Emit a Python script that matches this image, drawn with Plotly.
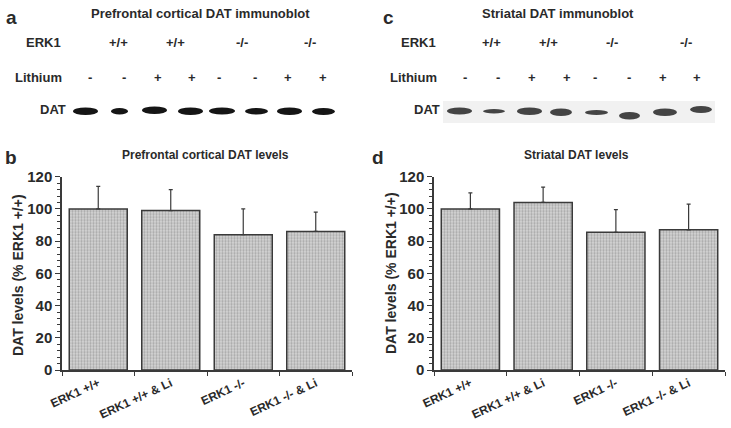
import plotly.graph_objects as go

# ---- data ----
categories = ["ERK1 +/+", "ERK1 +/+ & Li", "ERK1 -/-", "ERK1 -/- & Li"]
pfc_mean = [100, 99, 84, 86]
pfc_sem = [14, 13, 16, 12]
str_mean = [100, 104, 85.5, 87]
str_sem = [10, 9.5, 14, 16]
y_ticks = [0, 20, 40, 60, 80, 100, 120]

erk1_groups = ["+/+", "+/+", "-/-", "-/-"]
lithium_lanes = ["-", "-", "+", "+", "-", "-", "+", "+"]

W, H = 731, 428
FONT = "Liberation Sans, Arial, Helvetica, sans-serif"
DARK = "#2a2a2a"


def px(x):
    return x / W


def py(y):
    return 1 - y / H


fig = go.Figure()

bar_style = dict(
    marker=dict(
        color="#cfcfcf",
        line=dict(color="#3a3a3a", width=1.5),
        pattern=dict(shape=".", fgcolor="#7c7c7c", bgcolor="#d6d6d6", size=3, solidity=0.45),
    ),
    showlegend=False,
)
err_style = dict(type="data", symmetric=False, arrayminus=[0] * 4,
                 color="#3a3a3a", thickness=1.2, width=2)

fig.add_trace(go.Bar(x=categories, y=pfc_mean, error_y=dict(array=pfc_sem, **err_style),
                     xaxis="x", yaxis="y", **bar_style))
fig.add_trace(go.Bar(x=categories, y=str_mean, error_y=dict(array=str_sem, **err_style),
                     xaxis="x2", yaxis="y2", **bar_style))

ydom = [py(370), py(176.7)]
xax = dict(showline=True, linecolor="#3a3a3a", linewidth=1.5, ticks="outside",
           tickson="boundaries", ticklen=4, tickcolor="#3a3a3a", tickangle=-25,
           tickfont=dict(family=FONT, size=12, color=DARK, weight="bold"),
           showgrid=False, zeroline=False, fixedrange=True, automargin=False)
yax = dict(range=[0, 120], tickvals=y_ticks, showline=True, linecolor="#3a3a3a",
           linewidth=1.5, ticks="outside", ticklen=5, tickcolor="#3a3a3a",
           minor=dict(dtick=4, ticks="outside", ticklen=3, tickcolor="#3a3a3a"),
           tickfont=dict(family=FONT, size=15, color=DARK, weight="bold"),
           showgrid=False, zeroline=False, domain=ydom, automargin=False)

fig.update_layout(
    width=W, height=H,
    margin=dict(l=0, r=0, t=0, b=0, autoexpand=False),
    paper_bgcolor="white", plot_bgcolor="white",
    bargap=0.2,
    xaxis=dict(domain=[px(62), px(352)], anchor="y", **xax),
    yaxis=dict(anchor="x", **yax),
    xaxis2=dict(domain=[px(434), px(725)], anchor="y2", **xax),
    yaxis2=dict(anchor="x2", **yax),
)

annotations = []


def txt(x, y, s, size=13, xanchor="center", angle=0):
    annotations.append(dict(x=px(x), y=py(y), xref="paper", yref="paper", text=s,
                            showarrow=False, xanchor=xanchor, yanchor="middle",
                            textangle=angle,
                            font=dict(family=FONT, size=size, color=DARK, weight="bold")))


# panel letters and titles
txt(11, 17, "a", 19)
txt(388, 17, "c", 19)
txt(11, 157, "b", 19)
txt(378, 157, "d", 19)
txt(200, 13, "Prefrontal cortical DAT immunoblot", 13)
txt(558, 13, "Striatal DAT immunoblot", 13)
txt(205, 155, "Prefrontal cortical DAT levels", 12)
txt(576, 155, "Striatal DAT levels", 12)

# y-axis titles
txt(18, 275, "DAT levels (% ERK1 +/+)", 14, angle=-90)
txt(391, 273, "DAT levels (% ERK1 +/+)", 14, angle=-90)

# blot row labels
blots = [
    dict(erk_x=[118, 175, 242, 310], li_x=[90, 124, 158, 192, 219, 255, 288, 323],
         erk_lab=63, li_lab=64, dat_lab=68),
    dict(erk_x=[491, 548, 612, 686], li_x=[465, 498, 532, 567, 595, 629, 663, 697],
         erk_lab=438, li_lab=439, dat_lab=442),
]
for b in blots:
    txt(b["erk_lab"], 43, "ERK1", 13, xanchor="right")
    txt(b["li_lab"], 77, "Lithium", 13, xanchor="right")
    txt(b["dat_lab"], 110, "DAT", 13, xanchor="right")
    for x, g in zip(b["erk_x"], erk1_groups):
        txt(x, 43, g, 13)
    for x, s in zip(b["li_x"], lithium_lanes):
        txt(x, 77, s, 13)

fig.update_layout(annotations=annotations)

# blot bands (image-like decoration)
shapes = []
shapes.append(dict(type="rect", xref="paper", yref="paper", x0=px(443), x1=px(715),
                   y0=py(123), y1=py(101), fillcolor="#f1f1f1", line=dict(width=0), layer="below"))
left_bands = [(73, 98, 107.5, 115), (111, 128, 108, 114.5), (142, 167, 106.5, 114),
              (178, 203, 107.5, 115), (209, 235, 107.5, 114.5), (245, 268, 108, 114.5),
              (277, 302, 107.5, 115), (312, 335, 108, 115)]
right_bands = [(447, 472, 107.5, 114.5), (483, 505, 109, 113.5), (517, 542, 107.5, 115),
               (550, 572, 108.5, 116), (585, 608, 110, 115), (619, 640, 112, 119.5),
               (653, 677, 108.5, 116), (690, 712, 106, 113)]
for (x0, x1, y0, y1) in left_bands:
    shapes.append(dict(type="circle", xref="paper", yref="paper", x0=px(x0), x1=px(x1),
                       y0=py(y1), y1=py(y0), fillcolor="#151515", line=dict(width=0)))
for (x0, x1, y0, y1) in right_bands:
    shapes.append(dict(type="circle", xref="paper", yref="paper", x0=px(x0), x1=px(x1),
                       y0=py(y1), y1=py(y0), fillcolor="#262626", opacity=0.85,
                       line=dict(width=0)))
fig.update_layout(shapes=shapes)

fig.write_html("out.html", config={"displayModeBar": False},
               post_script="document.body.style.margin='0';document.body.style.overflow='hidden';")
